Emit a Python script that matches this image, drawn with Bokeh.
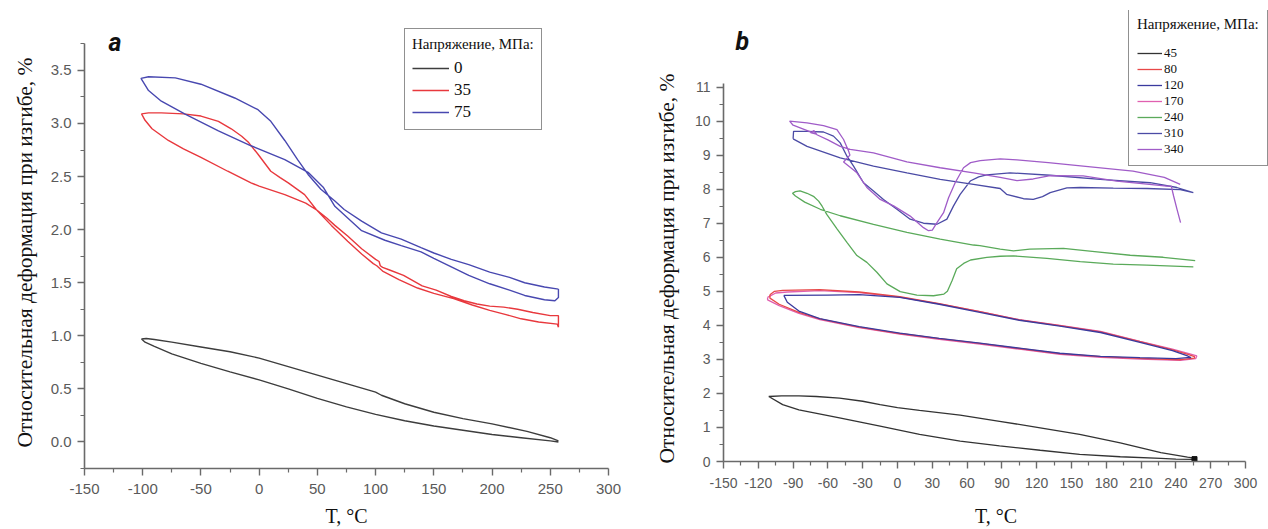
from bokeh.plotting import figure
from bokeh.layouts import row
from bokeh.models import Range1d, FixedTicker, Legend, LegendItem, Label, PrintfTickFormatter, Title
from bokeh.embed import file_html
from bokeh.resources import INLINE

# ---------------- Panel a ----------------
a_T_0 = [257, 250, 230, 200, 175, 150, 125, 105, 100, 75, 50, 25, 0, -25, -50, -75, -90, -97, -101,
         -98, -90, -75, -50, -25, 0, 25, 50, 75, 100, 125, 150, 175, 200, 225, 250, 257]
a_y_0 = [0.01, 0.04, 0.10, 0.17, 0.22, 0.28, 0.36, 0.44, 0.47, 0.55, 0.63, 0.71, 0.79, 0.85, 0.895, 0.94, 0.965, 0.975, 0.97,
         0.94, 0.90, 0.83, 0.74, 0.66, 0.585, 0.50, 0.41, 0.33, 0.26, 0.20, 0.15, 0.11, 0.07, 0.04, 0.01, 0.0]

a_T_35 = [257, 257, 250, 235, 222, 210, 198, 187, 176, 165, 152, 140, 124, 112, 106, 104, 103, 100, 88, 76, 65, 58, 50,
          40, 22, 0, -7, -27, -50, -65, -78, -92, -98, -101,
          -95, -84, -65, -50, -35, -24, -15, -9, -1, 10, 18, 25, 39, 49, 62, 76, 88, 98, 101, 106, 120, 136, 150, 167,
          183, 198, 212, 225, 240, 256, 257]
a_y_35 = [1.08, 1.19, 1.19, 1.22, 1.25, 1.27, 1.28, 1.30, 1.33, 1.37, 1.43, 1.47, 1.57, 1.62, 1.645, 1.66, 1.70, 1.72, 1.82,
          1.94, 2.04, 2.11, 2.18, 2.25, 2.33, 2.41, 2.44, 2.55, 2.68, 2.76, 2.84, 2.95, 3.03, 3.09,
          3.10, 3.10, 3.09, 3.07, 3.02, 2.95, 2.88, 2.82, 2.71, 2.55, 2.49, 2.44, 2.33, 2.19, 2.04, 1.89, 1.77, 1.68,
          1.66, 1.61, 1.53, 1.45, 1.40, 1.35, 1.29, 1.24, 1.20, 1.16, 1.13, 1.11, 1.08]

a_T_75 = [257, 245, 228, 215, 198, 180, 165, 150, 139, 122, 105, 88, 73, 65, 53, 42, 33, 22, 10, -1, -21, -50, -72, -95,
          -101.5, -95, -84, -64, -35, -7, 22, 42, 55, 65, 88, 108, 122, 139, 150, 165, 180, 198, 215, 228, 245, 254,
          257, 257]
a_y_75 = [1.44, 1.46, 1.50, 1.55, 1.60, 1.67, 1.72, 1.78, 1.83, 1.91, 1.97, 2.08, 2.19, 2.27, 2.38, 2.52, 2.66, 2.84,
          3.02, 3.13, 3.24, 3.37, 3.43, 3.44,
          3.425, 3.31, 3.21, 3.09, 2.93, 2.79, 2.66, 2.54, 2.40, 2.22, 1.99, 1.90, 1.85, 1.79, 1.73, 1.65, 1.57,
          1.49, 1.43, 1.38, 1.34, 1.33, 1.36, 1.44]

a_labels = ["0", "35", "75"]
a_colors = ["#3d3d3d", "#e8383d", "#4848b0"]

# ---------------- Panel b ----------------
b_T_45 = [-111, -100, -85, -70, -50, -30, -15, 0, 19, 54, 88, 123, 157, 192, 227, 250, 256,
          256, 240, 227, 192, 157, 123, 88, 54, 19, -15, -50, -85, -99, -111]
b_y_45 = [1.91, 1.93, 1.93, 1.91, 1.86, 1.77, 1.67, 1.58, 1.50, 1.36, 1.18, 0.99, 0.80, 0.55, 0.26, 0.13, 0.10,
          0.06, 0.07, 0.09, 0.14, 0.21, 0.33, 0.46, 0.60, 0.80, 1.04, 1.28, 1.52, 1.67, 1.91]
b_end_T = [256]
b_end_y = [0.07]

b_T_80 = [-110, -106, -99, -67, -33, 2, 36, 71, 105, 140, 175, 209, 237, 251, 256,
          256, 244, 209, 175, 140, 105, 71, 36, 2, -33, -67, -85, -102, -110, -110]
b_y_80 = [4.90, 5.00, 5.03, 5.05, 4.98, 4.84, 4.64, 4.40, 4.16, 3.99, 3.81, 3.52, 3.28, 3.14, 3.08,
          3.04, 2.99, 3.03, 3.08, 3.17, 3.32, 3.47, 3.61, 3.76, 3.95, 4.19, 4.38, 4.62, 4.80, 4.90]

b_T_120 = [-98, -60, -33, 2, 36, 71, 105, 140, 175, 209, 237, 250, 253,
           250, 240, 209, 175, 140, 105, 71, 36, 2, -33, -67, -85, -95, -98]
b_y_120 = [4.88, 4.89, 4.90, 4.82, 4.62, 4.38, 4.15, 3.98, 3.79, 3.50, 3.26, 3.10, 3.05,
           3.05, 3.02, 3.05, 3.09, 3.18, 3.33, 3.48, 3.62, 3.77, 3.96, 4.20, 4.42, 4.68, 4.88]

b_T_170 = [-112, -105, -95, -67, -33, 2, 36, 71, 105, 140, 175, 209, 237, 252, 258,
           257, 244, 209, 175, 140, 105, 71, 36, 2, -33, -67, -85, -102, -112, -112]
b_y_170 = [4.82, 4.95, 4.98, 5.02, 4.96, 4.83, 4.63, 4.40, 4.17, 4.00, 3.82, 3.53, 3.30, 3.16, 3.10,
           3.02, 2.97, 3.01, 3.06, 3.15, 3.30, 3.45, 3.59, 3.74, 3.93, 4.17, 4.35, 4.58, 4.75, 4.82]

b_T_240 = [256.6, 229, 200.6, 172, 143, 114, 100, 88.5, 71, 65.5, 36.8, 8.1, -20.7, -49.4, -66.6, -80, -88, -90.5,
           -88, -84, -78, -72, -68, -65, -61, -52, -43.6, -35, -26.4, -17.8, -9.1, 2.3, 16.7, 31, 40, 43, 47, 51,
           57, 63, 77, 88.5, 100, 128.8, 157.5, 186, 215, 255]
b_y_240 = [5.90, 6.00, 6.06, 6.16, 6.26, 6.24, 6.19, 6.24, 6.34, 6.36, 6.53, 6.73, 6.97, 7.22, 7.41, 7.62, 7.80, 7.88,
           7.93, 7.95, 7.88, 7.78, 7.65, 7.50, 7.26, 6.83, 6.44, 6.05, 5.85, 5.56, 5.22, 4.99, 4.89, 4.87, 4.92, 5.00,
           5.31, 5.66, 5.82, 5.92, 6.00, 6.03, 6.04, 5.97, 5.87, 5.80, 5.77, 5.72]

b_T_310 = [-90, -78, -49.4, -20.7, 8.1, 36.8, 65.5, 88.5, 94, 108.6, 117, 125, 131.6, 146, 157.5, 186, 215, 243.7, 255,
           240.8, 217.8, 174.7, 131.6, 97, 77, 70, 62.7, 54, 48.3, 42.6, 34, 22.4, 10.9, -0.5, -12.1, -20.7, -29.3,
           -37.9, -43.6, -49.4, -55.2, -63.8, -78, -89.6, -90]
b_y_310 = [9.48, 9.26, 8.92, 8.68, 8.48, 8.29, 8.14, 8.02, 7.85, 7.72, 7.70, 7.78, 7.90, 8.04, 8.05, 8.03, 8.02, 7.99, 7.90,
           8.05, 8.19, 8.29, 8.41, 8.48, 8.42, 8.36, 8.24, 7.85, 7.51, 7.12, 6.97, 7.00, 7.12, 7.41, 7.70, 7.95, 8.19,
           8.68, 8.97, 9.36, 9.56, 9.68, 9.70, 9.70, 9.48]

b_T_340 = [244, 241, 238, 236, 232, 215, 189, 160, 131.6, 117, 103, 88.5, 65.5, 36.8, 8.1, -20.7, -40.8, -49.4, -60,
           -69.5, -72, -75, -70, -80, -90, -93, -78, -63.8, -52.2, -46.5, -42.2, -41, -46.5, -40, -35, -26.4, -14.9,
           -3.4, 10.9, 22.4, 26.7, 30, 34, 39.7, 44, 49.7, 56.9, 63, 71.3, 88.5, 103, 130, 160, 203, 230, 243.7]
b_y_340 = [7.02, 7.40, 7.80, 8.09, 8.09, 8.15, 8.24, 8.39, 8.40, 8.30, 8.25, 8.35, 8.48, 8.63, 8.80, 9.07, 9.17, 9.26, 9.45,
           9.60, 9.72, 9.66, 9.62, 9.75, 9.88, 10.0, 9.95, 9.87, 9.75, 9.46, 9.12, 9.00, 8.80, 8.62, 8.48, 8.05, 7.70,
           7.51, 7.21, 6.87, 6.78, 6.80, 7.02, 7.31, 7.75, 8.19, 8.63, 8.78, 8.84, 8.89, 8.86, 8.78, 8.68, 8.53, 8.35, 8.14]

b_labels = ["45", "80", "120", "170", "240", "310", "340"]
b_colors = ["#333333", "#e84848", "#3a3a9e", "#e060b0", "#5aaa5a", "#4b4ba5", "#a05cc8"]

x_ticks_a = [-150, -100, -50, 0, 50, 100, 150, 200, 250, 300]
x_minor_a = [-125, -75, -25, 25, 75, 125, 175, 225, 275]
y_ticks_a = [0.0, 0.5, 1.0, 1.5, 2.0, 2.5, 3.0, 3.5]
y_minor_a = [-0.25, 0.25, 0.75, 1.25, 1.75, 2.25, 2.75, 3.25, 3.75]
x_ticks_b = [-150, -120, -90, -60, -30, 0, 30, 60, 90, 120, 150, 180, 210, 240, 270, 300]
x_minor_b = [-135, -105, -75, -45, -15, 15, 45, 75, 105, 135, 165, 195, 225, 255, 285]
y_ticks_b = list(range(0, 12))
y_minor_b = [0.5 + i for i in range(11)]

Y_LABEL = "Относительная деформация при изгибе, %"
X_LABEL = "T, °C"
LEG_TITLE = "Напряжение, МПа:"


def style_axes(p, xt, xm, yt, ym, xb, yb, yfmt, tick_fs, xlstand, xstand):
    p.outline_line_color = None
    p.xgrid.visible = False
    p.ygrid.visible = False
    p.background_fill_color = "white"
    p.border_fill_color = "white"
    p.xaxis.ticker = FixedTicker(ticks=xt, minor_ticks=xm)
    p.yaxis.ticker = FixedTicker(ticks=yt, minor_ticks=ym)
    p.xaxis.formatter = PrintfTickFormatter(format="%d")
    p.yaxis.formatter = PrintfTickFormatter(format=yfmt)
    p.xaxis.bounds = xb
    p.yaxis.bounds = yb
    for ax in (p.xaxis[0], p.yaxis[0]):
        ax.axis_line_color = "#6a6a6a"
        ax.axis_line_width = 1.6
        ax.major_tick_line_color = "#6a6a6a"
        ax.major_tick_line_width = 1.4
        ax.minor_tick_line_color = "#6a6a6a"
        ax.minor_tick_line_width = 1.2
        ax.major_tick_out = 7
        ax.major_tick_in = 0
        ax.minor_tick_out = 4
        ax.minor_tick_in = 0
        ax.major_label_text_font = "Liberation Sans"
        ax.major_label_text_font_size = tick_fs
        ax.major_label_text_color = "#5a5a5a"
        ax.axis_label_text_font = "Liberation Serif"
        ax.axis_label_text_font_style = "normal"
        ax.axis_label_text_color = "#111111"
    p.xaxis.axis_label_text_font_size = "20px"
    p.xaxis.major_label_standoff = xlstand
    p.yaxis.major_label_standoff = 6
    p.xaxis.axis_label = X_LABEL
    p.xaxis.axis_label_standoff = xstand


def add_ylabel(p, offset, standoff):
    p.add_layout(Title(text=Y_LABEL, align="left", offset=offset, standoff=standoff,
                       text_font="Liberation Serif", text_font_size="21.5px",
                       text_font_style="normal", text_color="#111111"), "left")


def make_legend(items, loc, glyph_w, glyph_h, label_fs, pad, standoff, spacing, title_standoff):
    return Legend(items=items, location=loc, title=LEG_TITLE,
                  title_text_font="Liberation Serif", title_text_font_size="15px",
                  title_text_font_style="normal", title_text_color="#111111",
                  title_standoff=title_standoff,
                  label_text_font="Liberation Serif", label_text_font_size=label_fs,
                  label_text_color="#111111",
                  glyph_width=glyph_w, glyph_height=glyph_h, label_height=glyph_h,
                  label_standoff=standoff, spacing=spacing, padding=pad, margin=0,
                  border_line_color="#222222", border_line_width=1.2,
                  background_fill_color="white", background_fill_alpha=1.0)


# ---- figure a ----
pa = figure(width=640, height=529, x_range=Range1d(-150, 300), y_range=Range1d(-0.25, 3.97),
            min_border_left=83, min_border_right=32, min_border_top=20, min_border_bottom=60,
            output_backend="svg", toolbar_location=None)
pa.frame_align = False
style_axes(pa, x_ticks_a, x_minor_a, y_ticks_a, y_minor_a, (-150, 300), (-0.25, 3.75), "%.1f",
           "15px", 8, 8)
add_ylabel(pa, 21, 21)

ra = []
for T, y, c in zip([a_T_0, a_T_35, a_T_75], [a_y_0, a_y_35, a_y_75], a_colors):
    ra.append(pa.line(T, y, line_color=c, line_width=1.4))

leg_a = make_legend([LegendItem(label=l, renderers=[r]) for l, r in zip(a_labels, ra)],
                    (320, 338), 37, 20, "17px", 7, 5, 2, 5)
pa.add_layout(leg_a, "center")
pa.add_layout(Label(x=24, y=426, x_units="screen", y_units="screen", text="a",
                    text_font="Roboto", text_font_style="bold italic", text_font_size="25px",
                    text_baseline="alphabetic", text_color="#111111"))

# ---- figure b ----
pb = figure(width=628, height=529, x_range=Range1d(-150, 319.8), y_range=Range1d(0, 13.25),
            min_border_left=83, min_border_right=0, min_border_top=10, min_border_bottom=66,
            output_backend="svg", toolbar_location=None)
pb.frame_align = False
style_axes(pb, x_ticks_b, x_minor_b, y_ticks_b, y_minor_b, (-150, 300), (0, 11.1), "%d",
           "14px", 9, 14)
add_ylabel(pb, -2, 25)

series_b = [(b_T_45, b_y_45), (b_T_80, b_y_80), (b_T_120, b_y_120), (b_T_170, b_y_170),
            (b_T_240, b_y_240), (b_T_310, b_y_310), (b_T_340, b_y_340)]
rb = [None] * 7
for i in [0, 3, 1, 2, 4, 5, 6]:
    T, y = series_b[i]
    rb[i] = pb.line(T, y, line_color=b_colors[i], line_width=1.3)
pb.scatter(b_end_T, b_end_y, marker="square", size=5, color="#111111")

leg_b = make_legend([LegendItem(label=l, renderers=[r]) for l, r in zip(b_labels, rb)],
                    (405, 295), 25, 14, "13px", 8, 2, 0, 12)
pb.add_layout(leg_b, "center")
pb.add_layout(Label(x=12, y=420, x_units="screen", y_units="screen", text="b",
                    text_font="Roboto", text_font_style="bold italic", text_font_size="25px",
                    text_baseline="alphabetic", text_color="#111111"))

layout = row(pa, pb, spacing=0)
open("out.html", "w").write(file_html(layout, INLINE))
